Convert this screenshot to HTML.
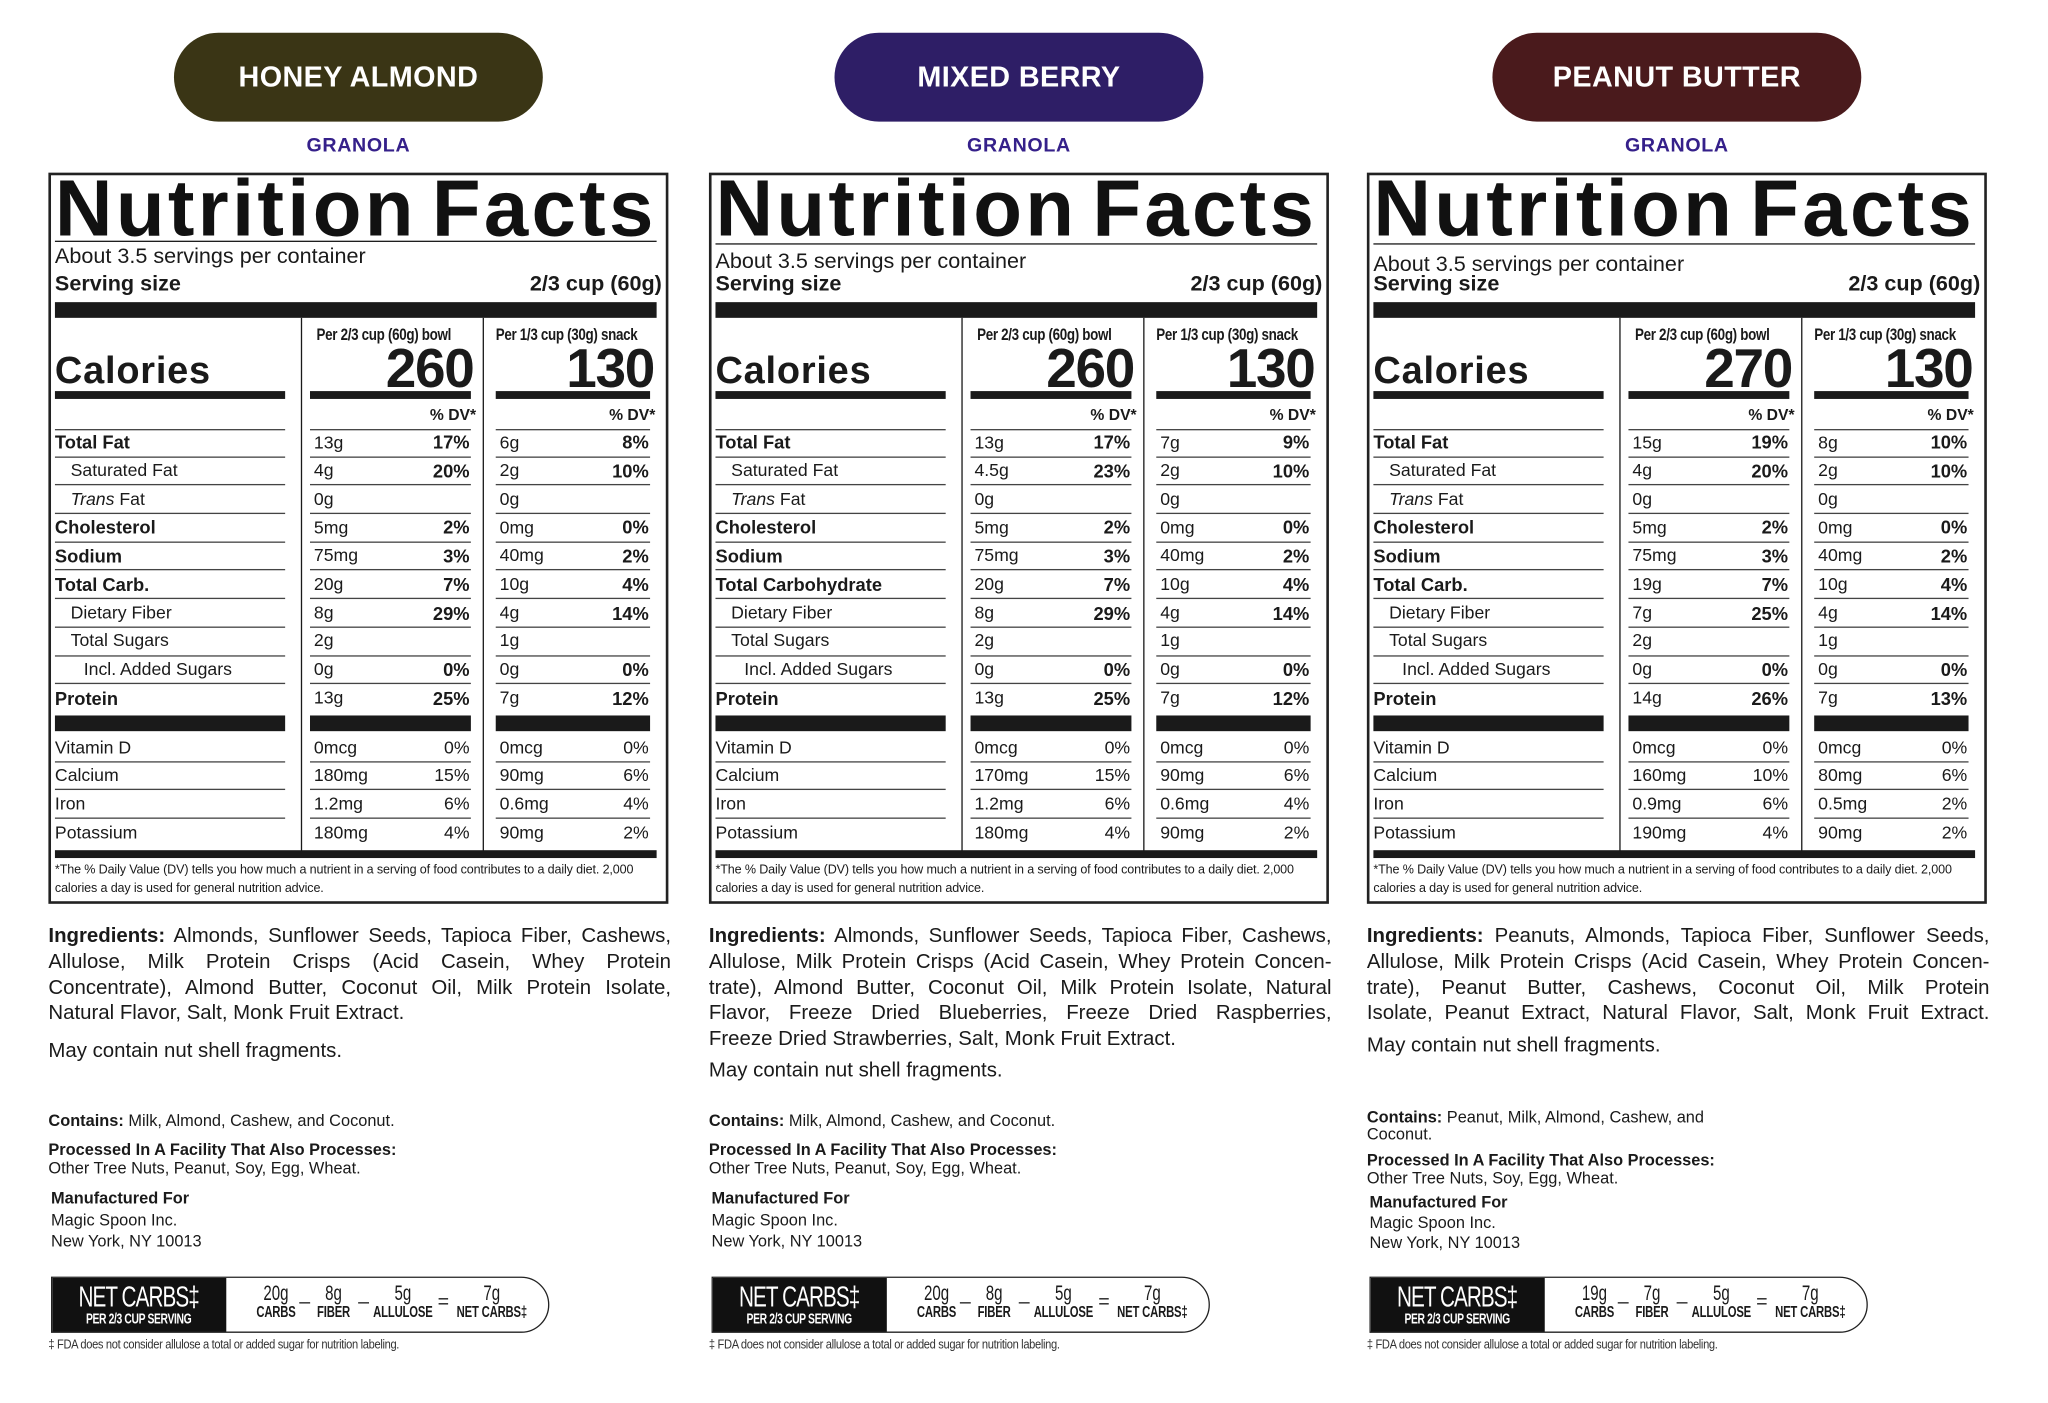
<!DOCTYPE html>
<html><head><meta charset="utf-8">
<style>
html,body{margin:0;padding:0;background:#fff;width:2048px;height:1403px;overflow:hidden}
#w{position:absolute;left:0;top:0;width:1566px;height:1073px;transform:scale(1.308);transform-origin:0 0;font-family:"Liberation Sans",sans-serif;color:#1a1a1a}
.p{position:absolute;top:0;width:480px;height:1062px}
.pill{position:absolute;left:96px;top:25px;width:282px;height:68px;border-radius:34px;color:#fff;font-weight:bold;font-size:22px;display:flex;align-items:center;justify-content:center;letter-spacing:0.3px}
.gr{position:absolute;left:96px;width:282px;top:103px;text-align:center;color:#35208a;font-weight:bold;font-size:15px;letter-spacing:0.5px}
.box{position:absolute;left:0;top:132px;width:474px;height:559px;border:2px solid #222;box-sizing:border-box}
.nf{position:absolute;left:5px;top:128px;width:460px;display:flex;justify-content:space-between;font-weight:900;font-size:61px;line-height:62px;letter-spacing:2.5px;color:#111}
.hl{position:absolute;background:#1a1a1a}
.t{position:absolute;white-space:nowrap;line-height:1}
.ph{position:absolute;top:250px;font-size:12.5px;font-weight:bold;letter-spacing:-0.3px;white-space:nowrap;transform:scaleX(0.82);transform-origin:0 0;line-height:1}
.r{position:absolute;left:0;width:476px;height:21.7px;font-size:13.5px}
.r>div{position:absolute;top:0;height:21.7px;border-bottom:1px solid #444;box-sizing:border-box;display:flex;justify-content:space-between;align-items:center;line-height:1}
.a{left:5px;width:176px}.b{left:200px;width:123px}.c{left:342px;width:118px}
.r .b span:first-child,.r .c span:first-child{padding-left:3px}
.r b{font-weight:bold;font-size:14px;padding-right:1px}
.r .dv{padding-right:1px}
.nb>div{border-bottom:none}
.lb{font-weight:bold;font-size:14px}
.cal{position:absolute;left:5px;top:270px;font-size:29px;font-weight:900;letter-spacing:0.6px;line-height:1;white-space:nowrap}
.num{position:absolute;top:261px;font-size:42px;font-weight:bold;line-height:1;letter-spacing:-1px}
.ing{position:absolute;left:0;width:476px;font-size:15.6px;line-height:19.8px;color:#1a1a1a}
.ing div{text-align:justify;text-align-last:justify;white-space:nowrap}
.ing div.l{text-align-last:left}
.sm{position:absolute;left:0;font-size:12.5px;line-height:14.5px;white-space:nowrap}
.nc{position:absolute;left:2px;top:976px;width:381px;height:43px;border:1.5px solid #222;box-sizing:border-box;border-radius:0 22px 22px 0;overflow:hidden}
.nc .k{position:absolute;left:0;top:0;width:133px;height:43px;background:#111;color:#fff}
.k1{position:absolute;left:66px;top:4px;font-size:22px;line-height:22px;letter-spacing:-1px;transform:translateX(-50%) scaleX(0.72);white-space:nowrap}
.k2{position:absolute;left:66px;top:27px;font-size:11px;font-weight:bold;line-height:11px;letter-spacing:-0.4px;transform:translateX(-50%) scaleX(0.72);white-space:nowrap}
.v{position:absolute;top:5px;text-align:center;font-size:16px;line-height:15px;transform:translateX(-50%) scaleX(0.72);white-space:nowrap}
.v small{display:block;font-size:12px;font-weight:bold;line-height:13px;letter-spacing:-0.2px}
.op{position:absolute;top:10px;font-size:15px;transform:translateX(-50%)}
.fda{position:absolute;left:0;top:1023px;font-size:10px;color:#333;white-space:nowrap;letter-spacing:-0.3px;transform:scaleX(0.85);transform-origin:0 0}
</style></head><body><div id="w">

<!-- PANEL 1 -->
<div class="p" style="left:37px">
<div class="pill" style="background:#3a3515">HONEY ALMOND</div>
<div class="gr">GRANOLA</div>
<div class="box"></div>
<div class="nf"><span>Nutrition</span><span>Facts</span></div>
<div class="hl" style="left:5px;top:184px;width:460px;height:1px"></div>
<div class="t" style="left:5px;top:188px;font-size:16.5px">About 3.5 servings per container</div>
<div class="t" style="left:5px;top:209px;font-size:16.5px;font-weight:bold">Serving size</div>
<div class="t" style="right:11px;top:209px;font-size:16.5px;font-weight:bold">2/3 cup (60g)</div>
<div class="hl" style="left:5px;top:231px;width:460px;height:12px"></div>
<div class="hl" style="left:193px;top:243px;width:1px;height:408px"></div>
<div class="hl" style="left:332px;top:243px;width:1px;height:408px"></div>
<div class="ph" style="left:205px">Per 2/3 cup (60g) bowl</div>
<div class="ph" style="left:342px">Per 1/3 cup (30g) snack</div>
<div class="cal">Calories</div>
<div class="num" style="right:155px">260</div>
<div class="num" style="right:17px">130</div>
<div class="hl" style="left:5px;top:299px;width:176px;height:6px"></div>
<div class="hl" style="left:200px;top:299px;width:123px;height:6px"></div>
<div class="hl" style="left:342px;top:299px;width:118px;height:6px"></div>
<div class="t" style="right:153px;top:311px;font-size:12px;font-weight:bold">% DV*</div>
<div class="t" style="right:16px;top:311px;font-size:12px;font-weight:bold">% DV*</div>
<div class="hl" style="left:5px;top:328px;width:176px;height:1px;background:#444"></div>
<div class="hl" style="left:200px;top:328px;width:123px;height:1px;background:#444"></div>
<div class="hl" style="left:342px;top:328px;width:118px;height:1px;background:#444"></div>
<div class="r" style="top:328px"><div class="a lb">Total Fat</div><div class="b"><span>13g</span><b>17%</b></div><div class="c"><span>6g</span><b>8%</b></div></div>
<div class="r" style="top:349.7px"><div class="a"><span style="padding-left:12px">Saturated Fat</span></div><div class="b"><span>4g</span><b>20%</b></div><div class="c"><span>2g</span><b>10%</b></div></div>
<div class="r" style="top:371.4px"><div class="a"><span style="padding-left:12px"><i>Trans</i> Fat</span></div><div class="b"><span>0g</span></div><div class="c"><span>0g</span></div></div>
<div class="r" style="top:393.1px"><div class="a lb">Cholesterol</div><div class="b"><span>5mg</span><b>2%</b></div><div class="c"><span>0mg</span><b>0%</b></div></div>
<div class="r" style="top:414.8px"><div class="a lb">Sodium</div><div class="b"><span>75mg</span><b>3%</b></div><div class="c"><span>40mg</span><b>2%</b></div></div>
<div class="r" style="top:436.5px"><div class="a lb">Total Carb.</div><div class="b"><span>20g</span><b>7%</b></div><div class="c"><span>10g</span><b>4%</b></div></div>
<div class="r" style="top:458.2px"><div class="a"><span style="padding-left:12px">Dietary Fiber</span></div><div class="b"><span>8g</span><b>29%</b></div><div class="c"><span>4g</span><b>14%</b></div></div>
<div class="r" style="top:479.9px"><div class="a"><span style="padding-left:12px">Total Sugars</span></div><div class="b"><span>2g</span></div><div class="c"><span>1g</span></div></div>
<div class="r" style="top:501.6px"><div class="a"><span style="padding-left:22px">Incl. Added Sugars</span></div><div class="b"><span>0g</span><b>0%</b></div><div class="c"><span>0g</span><b>0%</b></div></div>
<div class="r nb" style="top:523.3px"><div class="a lb">Protein</div><div class="b"><span>13g</span><b>25%</b></div><div class="c"><span>7g</span><b>12%</b></div></div>
<div class="hl" style="left:5px;top:547px;width:176px;height:12px"></div>
<div class="hl" style="left:200px;top:547px;width:123px;height:12px"></div>
<div class="hl" style="left:342px;top:547px;width:118px;height:12px"></div>
<div class="r" style="top:561px"><div class="a">Vitamin D</div><div class="b"><span>0mcg</span><span class="dv">0%</span></div><div class="c"><span>0mcg</span><span class="dv">0%</span></div></div>
<div class="r" style="top:582.7px"><div class="a">Calcium</div><div class="b"><span>180mg</span><span class="dv">15%</span></div><div class="c"><span>90mg</span><span class="dv">6%</span></div></div>
<div class="r" style="top:604.4px"><div class="a">Iron</div><div class="b"><span>1.2mg</span><span class="dv">6%</span></div><div class="c"><span>0.6mg</span><span class="dv">4%</span></div></div>
<div class="r nb" style="top:626.1px"><div class="a">Potassium</div><div class="b"><span>180mg</span><span class="dv">4%</span></div><div class="c"><span>90mg</span><span class="dv">2%</span></div></div>
<div class="hl" style="left:5px;top:650px;width:460px;height:6px"></div>
<div class="t" style="left:5px;top:659px;font-size:9.6px;line-height:14px;white-space:normal;width:455px;letter-spacing:-0.1px">*The % Daily Value (DV) tells you how much a nutrient in a serving of food contributes to a daily diet. 2,000 calories a day is used for general nutrition advice.</div>
<div class="ing" style="top:706px">
<div><b>Ingredients:</b> Almonds, Sunflower Seeds, Tapioca Fiber, Cashews,</div>
<div>Allulose, Milk Protein Crisps (Acid Casein, Whey Protein</div>
<div>Concentrate), Almond Butter, Coconut Oil, Milk Protein Isolate,</div>
<div class="l">Natural Flavor, Salt, Monk Fruit Extract.</div>
<div class="l" style="margin-top:9px">May contain nut shell fragments.</div>
</div>
<div class="sm" style="top:850px"><b>Contains:</b> Milk, Almond, Cashew, and Coconut.</div>
<div class="sm" style="top:872px"><b>Processed In A Facility That Also Processes:</b></div>
<div class="sm" style="top:886px">Other Tree Nuts, Peanut, Soy, Egg, Wheat.</div>
<div class="sm" style="top:909px;left:2px"><b>Manufactured For</b></div>
<div class="sm" style="top:926px;left:2px">Magic Spoon Inc.</div>
<div class="sm" style="top:942px;left:2px">New York, NY 10013</div>
<div class="nc"><div class="k"><div class="k1">NET CARBS‡</div><div class="k2">PER 2/3 CUP SERVING</div></div>
<div class="v" style="left:171px">20g<small>CARBS</small></div><div class="op" style="left:193px">–</div>
<div class="v" style="left:215px">8g<small>FIBER</small></div><div class="op" style="left:238px">–</div>
<div class="v" style="left:268px">5g<small>ALLULOSE</small></div><div class="op" style="left:299px">=</div>
<div class="v" style="left:336px">7g<small>NET CARBS‡</small></div></div>
<div class="fda">‡ FDA does not consider allulose a total or added sugar for nutrition labeling.</div>
</div>

<!-- PANEL 2 -->
<div class="p" style="left:542px">
<div class="pill" style="background:#2e1e66">MIXED BERRY</div>
<div class="gr">GRANOLA</div>
<div class="box"></div>
<div class="nf"><span>Nutrition</span><span>Facts</span></div>
<div class="hl" style="left:5px;top:186px;width:460px;height:1px"></div>
<div class="t" style="left:5px;top:192px;font-size:16.5px">About 3.5 servings per container</div>
<div class="t" style="left:5px;top:209px;font-size:16.5px;font-weight:bold">Serving size</div>
<div class="t" style="right:11px;top:209px;font-size:16.5px;font-weight:bold">2/3 cup (60g)</div>
<div class="hl" style="left:5px;top:231px;width:460px;height:12px"></div>
<div class="hl" style="left:193px;top:243px;width:1px;height:408px"></div>
<div class="hl" style="left:332px;top:243px;width:1px;height:408px"></div>
<div class="ph" style="left:205px">Per 2/3 cup (60g) bowl</div>
<div class="ph" style="left:342px">Per 1/3 cup (30g) snack</div>
<div class="cal">Calories</div>
<div class="num" style="right:155px">260</div>
<div class="num" style="right:17px">130</div>
<div class="hl" style="left:5px;top:299px;width:176px;height:6px"></div>
<div class="hl" style="left:200px;top:299px;width:123px;height:6px"></div>
<div class="hl" style="left:342px;top:299px;width:118px;height:6px"></div>
<div class="t" style="right:153px;top:311px;font-size:12px;font-weight:bold">% DV*</div>
<div class="t" style="right:16px;top:311px;font-size:12px;font-weight:bold">% DV*</div>
<div class="hl" style="left:5px;top:328px;width:176px;height:1px;background:#444"></div>
<div class="hl" style="left:200px;top:328px;width:123px;height:1px;background:#444"></div>
<div class="hl" style="left:342px;top:328px;width:118px;height:1px;background:#444"></div>
<div class="r" style="top:328px"><div class="a lb">Total Fat</div><div class="b"><span>13g</span><b>17%</b></div><div class="c"><span>7g</span><b>9%</b></div></div>
<div class="r" style="top:349.7px"><div class="a"><span style="padding-left:12px">Saturated Fat</span></div><div class="b"><span>4.5g</span><b>23%</b></div><div class="c"><span>2g</span><b>10%</b></div></div>
<div class="r" style="top:371.4px"><div class="a"><span style="padding-left:12px"><i>Trans</i> Fat</span></div><div class="b"><span>0g</span></div><div class="c"><span>0g</span></div></div>
<div class="r" style="top:393.1px"><div class="a lb">Cholesterol</div><div class="b"><span>5mg</span><b>2%</b></div><div class="c"><span>0mg</span><b>0%</b></div></div>
<div class="r" style="top:414.8px"><div class="a lb">Sodium</div><div class="b"><span>75mg</span><b>3%</b></div><div class="c"><span>40mg</span><b>2%</b></div></div>
<div class="r" style="top:436.5px"><div class="a lb">Total Carbohydrate</div><div class="b"><span>20g</span><b>7%</b></div><div class="c"><span>10g</span><b>4%</b></div></div>
<div class="r" style="top:458.2px"><div class="a"><span style="padding-left:12px">Dietary Fiber</span></div><div class="b"><span>8g</span><b>29%</b></div><div class="c"><span>4g</span><b>14%</b></div></div>
<div class="r" style="top:479.9px"><div class="a"><span style="padding-left:12px">Total Sugars</span></div><div class="b"><span>2g</span></div><div class="c"><span>1g</span></div></div>
<div class="r" style="top:501.6px"><div class="a"><span style="padding-left:22px">Incl. Added Sugars</span></div><div class="b"><span>0g</span><b>0%</b></div><div class="c"><span>0g</span><b>0%</b></div></div>
<div class="r nb" style="top:523.3px"><div class="a lb">Protein</div><div class="b"><span>13g</span><b>25%</b></div><div class="c"><span>7g</span><b>12%</b></div></div>
<div class="hl" style="left:5px;top:547px;width:176px;height:12px"></div>
<div class="hl" style="left:200px;top:547px;width:123px;height:12px"></div>
<div class="hl" style="left:342px;top:547px;width:118px;height:12px"></div>
<div class="r" style="top:561px"><div class="a">Vitamin D</div><div class="b"><span>0mcg</span><span class="dv">0%</span></div><div class="c"><span>0mcg</span><span class="dv">0%</span></div></div>
<div class="r" style="top:582.7px"><div class="a">Calcium</div><div class="b"><span>170mg</span><span class="dv">15%</span></div><div class="c"><span>90mg</span><span class="dv">6%</span></div></div>
<div class="r" style="top:604.4px"><div class="a">Iron</div><div class="b"><span>1.2mg</span><span class="dv">6%</span></div><div class="c"><span>0.6mg</span><span class="dv">4%</span></div></div>
<div class="r nb" style="top:626.1px"><div class="a">Potassium</div><div class="b"><span>180mg</span><span class="dv">4%</span></div><div class="c"><span>90mg</span><span class="dv">2%</span></div></div>
<div class="hl" style="left:5px;top:650px;width:460px;height:6px"></div>
<div class="t" style="left:5px;top:659px;font-size:9.6px;line-height:14px;white-space:normal;width:455px;letter-spacing:-0.1px">*The % Daily Value (DV) tells you how much a nutrient in a serving of food contributes to a daily diet. 2,000 calories a day is used for general nutrition advice.</div>
<div class="ing" style="top:706px">
<div><b>Ingredients:</b> Almonds, Sunflower Seeds, Tapioca Fiber, Cashews,</div>
<div>Allulose, Milk Protein Crisps (Acid Casein, Whey Protein Concen-</div>
<div>trate), Almond Butter, Coconut Oil, Milk Protein Isolate, Natural</div>
<div>Flavor, Freeze Dried Blueberries, Freeze Dried Raspberries,</div>
<div class="l">Freeze Dried Strawberries, Salt, Monk Fruit Extract.</div>
<div class="l" style="margin-top:4px">May contain nut shell fragments.</div>
</div>
<div class="sm" style="top:850px"><b>Contains:</b> Milk, Almond, Cashew, and Coconut.</div>
<div class="sm" style="top:872px"><b>Processed In A Facility That Also Processes:</b></div>
<div class="sm" style="top:886px">Other Tree Nuts, Peanut, Soy, Egg, Wheat.</div>
<div class="sm" style="top:909px;left:2px"><b>Manufactured For</b></div>
<div class="sm" style="top:926px;left:2px">Magic Spoon Inc.</div>
<div class="sm" style="top:942px;left:2px">New York, NY 10013</div>
<div class="nc"><div class="k"><div class="k1">NET CARBS‡</div><div class="k2">PER 2/3 CUP SERVING</div></div>
<div class="v" style="left:171px">20g<small>CARBS</small></div><div class="op" style="left:193px">–</div>
<div class="v" style="left:215px">8g<small>FIBER</small></div><div class="op" style="left:238px">–</div>
<div class="v" style="left:268px">5g<small>ALLULOSE</small></div><div class="op" style="left:299px">=</div>
<div class="v" style="left:336px">7g<small>NET CARBS‡</small></div></div>
<div class="fda">‡ FDA does not consider allulose a total or added sugar for nutrition labeling.</div>
</div>

<!-- PANEL 3 -->
<div class="p" style="left:1045px">
<div class="pill" style="background:#4a1a1c">PEANUT BUTTER</div>
<div class="gr">GRANOLA</div>
<div class="box"></div>
<div class="nf"><span>Nutrition</span><span>Facts</span></div>
<div class="hl" style="left:5px;top:186px;width:460px;height:1px"></div>
<div class="t" style="left:5px;top:194px;font-size:16.5px">About 3.5 servings per container</div>
<div class="t" style="left:5px;top:209px;font-size:16.5px;font-weight:bold">Serving size</div>
<div class="t" style="right:11px;top:209px;font-size:16.5px;font-weight:bold">2/3 cup (60g)</div>
<div class="hl" style="left:5px;top:231px;width:460px;height:12px"></div>
<div class="hl" style="left:193px;top:243px;width:1px;height:408px"></div>
<div class="hl" style="left:332px;top:243px;width:1px;height:408px"></div>
<div class="ph" style="left:205px">Per 2/3 cup (60g) bowl</div>
<div class="ph" style="left:342px">Per 1/3 cup (30g) snack</div>
<div class="cal">Calories</div>
<div class="num" style="right:155px">270</div>
<div class="num" style="right:17px">130</div>
<div class="hl" style="left:5px;top:299px;width:176px;height:6px"></div>
<div class="hl" style="left:200px;top:299px;width:123px;height:6px"></div>
<div class="hl" style="left:342px;top:299px;width:118px;height:6px"></div>
<div class="t" style="right:153px;top:311px;font-size:12px;font-weight:bold">% DV*</div>
<div class="t" style="right:16px;top:311px;font-size:12px;font-weight:bold">% DV*</div>
<div class="hl" style="left:5px;top:328px;width:176px;height:1px;background:#444"></div>
<div class="hl" style="left:200px;top:328px;width:123px;height:1px;background:#444"></div>
<div class="hl" style="left:342px;top:328px;width:118px;height:1px;background:#444"></div>
<div class="r" style="top:328px"><div class="a lb">Total Fat</div><div class="b"><span>15g</span><b>19%</b></div><div class="c"><span>8g</span><b>10%</b></div></div>
<div class="r" style="top:349.7px"><div class="a"><span style="padding-left:12px">Saturated Fat</span></div><div class="b"><span>4g</span><b>20%</b></div><div class="c"><span>2g</span><b>10%</b></div></div>
<div class="r" style="top:371.4px"><div class="a"><span style="padding-left:12px"><i>Trans</i> Fat</span></div><div class="b"><span>0g</span></div><div class="c"><span>0g</span></div></div>
<div class="r" style="top:393.1px"><div class="a lb">Cholesterol</div><div class="b"><span>5mg</span><b>2%</b></div><div class="c"><span>0mg</span><b>0%</b></div></div>
<div class="r" style="top:414.8px"><div class="a lb">Sodium</div><div class="b"><span>75mg</span><b>3%</b></div><div class="c"><span>40mg</span><b>2%</b></div></div>
<div class="r" style="top:436.5px"><div class="a lb">Total Carb.</div><div class="b"><span>19g</span><b>7%</b></div><div class="c"><span>10g</span><b>4%</b></div></div>
<div class="r" style="top:458.2px"><div class="a"><span style="padding-left:12px">Dietary Fiber</span></div><div class="b"><span>7g</span><b>25%</b></div><div class="c"><span>4g</span><b>14%</b></div></div>
<div class="r" style="top:479.9px"><div class="a"><span style="padding-left:12px">Total Sugars</span></div><div class="b"><span>2g</span></div><div class="c"><span>1g</span></div></div>
<div class="r" style="top:501.6px"><div class="a"><span style="padding-left:22px">Incl. Added Sugars</span></div><div class="b"><span>0g</span><b>0%</b></div><div class="c"><span>0g</span><b>0%</b></div></div>
<div class="r nb" style="top:523.3px"><div class="a lb">Protein</div><div class="b"><span>14g</span><b>26%</b></div><div class="c"><span>7g</span><b>13%</b></div></div>
<div class="hl" style="left:5px;top:547px;width:176px;height:12px"></div>
<div class="hl" style="left:200px;top:547px;width:123px;height:12px"></div>
<div class="hl" style="left:342px;top:547px;width:118px;height:12px"></div>
<div class="r" style="top:561px"><div class="a">Vitamin D</div><div class="b"><span>0mcg</span><span class="dv">0%</span></div><div class="c"><span>0mcg</span><span class="dv">0%</span></div></div>
<div class="r" style="top:582.7px"><div class="a">Calcium</div><div class="b"><span>160mg</span><span class="dv">10%</span></div><div class="c"><span>80mg</span><span class="dv">6%</span></div></div>
<div class="r" style="top:604.4px"><div class="a">Iron</div><div class="b"><span>0.9mg</span><span class="dv">6%</span></div><div class="c"><span>0.5mg</span><span class="dv">2%</span></div></div>
<div class="r nb" style="top:626.1px"><div class="a">Potassium</div><div class="b"><span>190mg</span><span class="dv">4%</span></div><div class="c"><span>90mg</span><span class="dv">2%</span></div></div>
<div class="hl" style="left:5px;top:650px;width:460px;height:6px"></div>
<div class="t" style="left:5px;top:659px;font-size:9.6px;line-height:14px;white-space:normal;width:455px;letter-spacing:-0.1px">*The % Daily Value (DV) tells you how much a nutrient in a serving of food contributes to a daily diet. 2,000 calories a day is used for general nutrition advice.</div>
<div class="ing" style="top:706px">
<div><b>Ingredients:</b> Peanuts, Almonds, Tapioca Fiber, Sunflower Seeds,</div>
<div>Allulose, Milk Protein Crisps (Acid Casein, Whey Protein Concen-</div>
<div>trate), Peanut Butter, Cashews, Coconut Oil, Milk Protein</div>
<div>Isolate, Peanut Extract, Natural Flavor, Salt, Monk Fruit Extract.</div>
<div class="l" style="margin-top:5px">May contain nut shell fragments.</div>
</div>
<div class="sm" style="top:848px;line-height:13px"><b>Contains:</b> Peanut, Milk, Almond, Cashew, and<br>Coconut.</div>
<div class="sm" style="top:881px;line-height:13.5px"><b>Processed In A Facility That Also Processes:</b><br>Other Tree Nuts, Soy, Egg, Wheat.</div>
<div class="sm" style="top:912px;left:2px;line-height:15.5px"><b>Manufactured For</b><br>Magic Spoon Inc.<br>New York, NY 10013</div>
<div class="nc"><div class="k"><div class="k1">NET CARBS‡</div><div class="k2">PER 2/3 CUP SERVING</div></div>
<div class="v" style="left:171px">19g<small>CARBS</small></div><div class="op" style="left:193px">–</div>
<div class="v" style="left:215px">7g<small>FIBER</small></div><div class="op" style="left:238px">–</div>
<div class="v" style="left:268px">5g<small>ALLULOSE</small></div><div class="op" style="left:299px">=</div>
<div class="v" style="left:336px">7g<small>NET CARBS‡</small></div></div>
<div class="fda">‡ FDA does not consider allulose a total or added sugar for nutrition labeling.</div>
</div>

</div></body></html>
